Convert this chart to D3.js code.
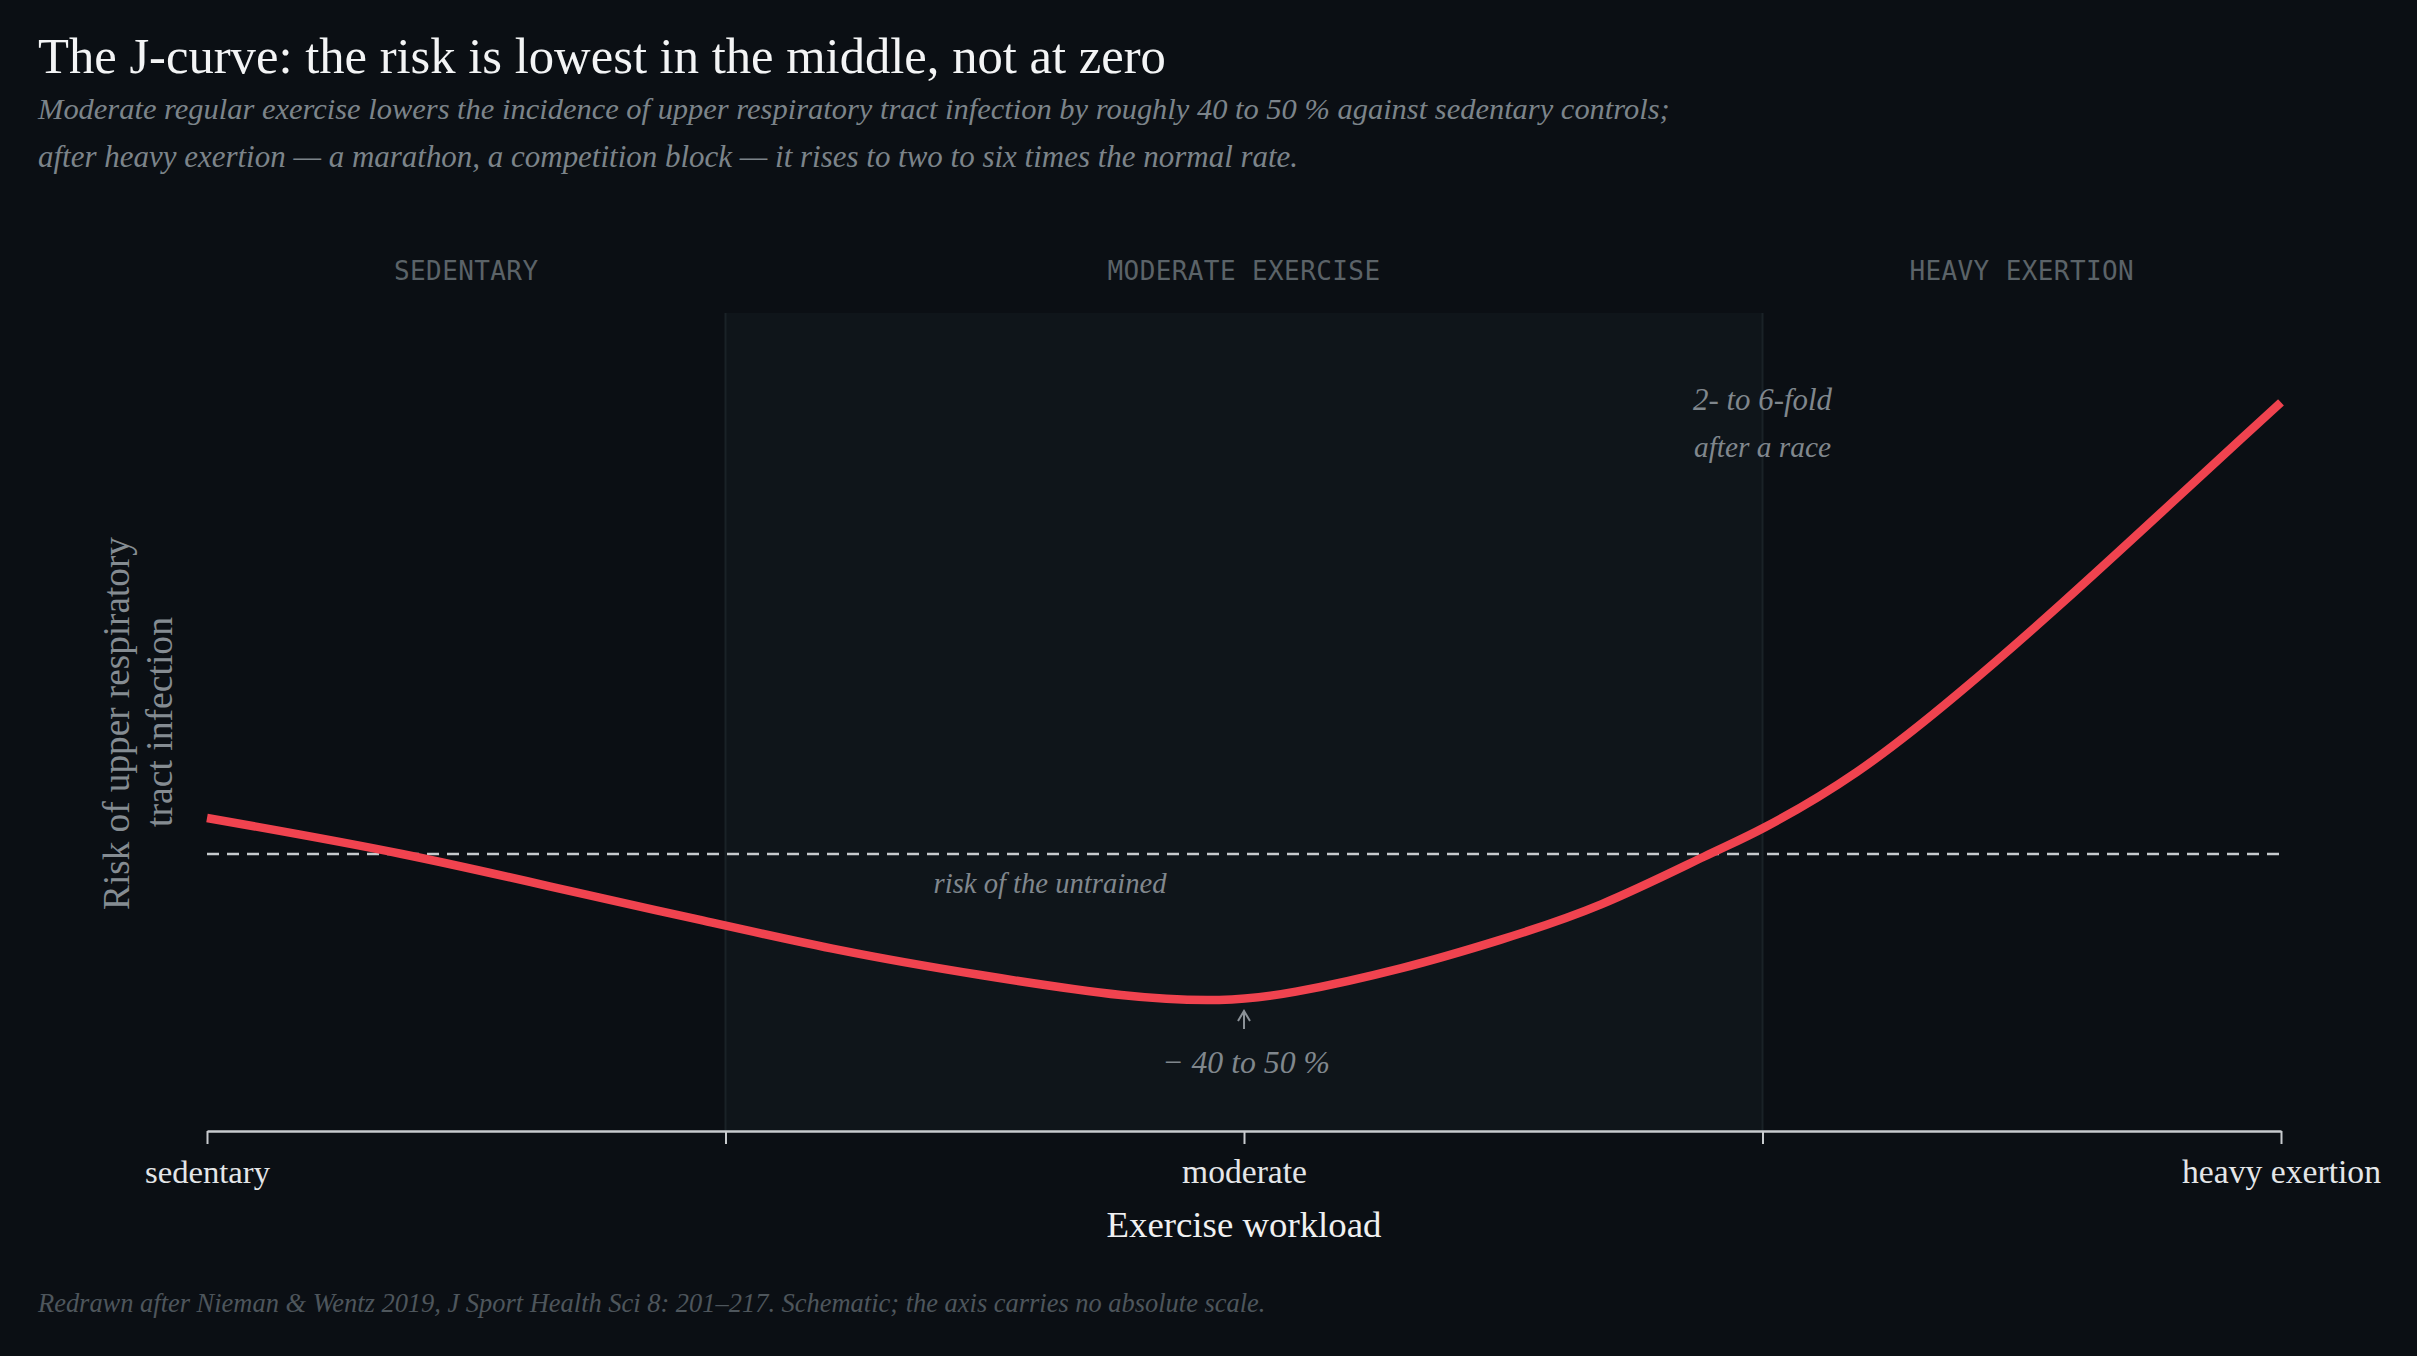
<!DOCTYPE html>
<html>
<head>
<meta charset="utf-8">
<script src="https://cdn.jsdelivr.net/npm/d3@7"></script>
<style>
  html,body{margin:0;padding:0;background:#0b0f14;}
  svg{display:block;}
</style>
</head>
<body>
<svg id="chart" width="2417" height="1356"></svg>
<script>
// ---------------- data ----------------
const workload = [0, 0.376, 0.708, 0.951, 1.221, 1.492, 1.763, 1.952, 2.10, 2.304, 2.494, 2.690, 2.887, 3.005, 3.182, 3.379, 3.576, 3.772, 3.921, 4.0];
const risk     = [1.13, 1.0, 0.863, 0.762, 0.653, 0.563, 0.491, 0.473, 0.503, 0.588, 0.690, 0.819, 0.990, 1.097, 1.296, 1.582, 1.903, 2.238, 2.495, 2.630];
const tickValues = [0, 1, 2, 3, 4];
const tickLabels = ["sedentary", "", "moderate", "", "heavy exertion"];
const zoneNames = ["SEDENTARY", "MODERATE EXERCISE", "HEAVY EXERTION"];
const zoneFrom  = [0, 1, 3];
const zoneTo    = [1, 3, 4];
const untrainedRisk = 1.0;
const minimumAt = 2;
const foldAt = 3;

const title = "The J-curve: the risk is lowest in the middle, not at zero";
const subtitle = [
  "Moderate regular exercise lowers the incidence of upper respiratory tract infection by roughly 40 to 50 % against sedentary controls;",
  "after heavy exertion \u2014 a marathon, a competition block \u2014 it rises to two to six times the normal rate."
];
const yLabel = ["Risk of upper respiratory", "tract infection"];
const xLabel = "Exercise workload";
const footer = "Redrawn after Nieman & Wentz 2019, J Sport Health Sci 8: 201\u2013217. Schematic; the axis carries no absolute scale.";

// ---------------- layout ----------------
const W = 2417, H = 1356;
const plot = {left: 207, right: 2281, top: 313, bottom: 1131};
const SERIF = "'Liberation Serif', 'DejaVu Serif', serif";
const MONO = "'DejaVu Sans Mono', 'Liberation Mono', monospace";

const svg = d3.select("#chart");
svg.append("rect").attr("width", W).attr("height", H).attr("fill", "#0b0f14");

const x = d3.scaleLinear().domain([0, 4]).range([plot.left, plot.right]);
const y = d3.scaleLinear().domain([0, 2.953]).range([plot.bottom, plot.top]);

function fit(sel, target) {
  sel.each(function () {
    const fs = parseFloat(this.getAttribute("font-size"));
    const l = this.getComputedTextLength();
    if (l > 0) this.setAttribute("font-size", (fs * target / l).toFixed(2));
  });
  return sel;
}

// moderate band
const zones = zoneNames.map((n, i) => ({name: n, from: zoneFrom[i], to: zoneTo[i]}));
const mid = zones[1];
svg.append("rect")
  .attr("x", x(mid.from)).attr("y", plot.top)
  .attr("width", x(mid.to) - x(mid.from)).attr("height", plot.bottom - plot.top)
  .attr("fill", "#0f151a");
[mid.from, mid.to].forEach(v => {
  svg.append("line")
    .attr("x1", x(v)).attr("x2", x(v)).attr("y1", plot.top).attr("y2", plot.bottom)
    .attr("stroke", "#1a2227").attr("stroke-width", 2);
});

// zone labels
svg.selectAll("text.zone").data(zones).join("text")
  .attr("class", "zone")
  .attr("x", d => x((d.from + d.to) / 2))
  .attr("y", 280)
  .attr("text-anchor", "middle")
  .attr("font-family", MONO)
  .attr("font-size", 26)
  .attr("letter-spacing", 0.4)
  .attr("fill", "#5b6368")
  .text(d => d.name);

// untrained baseline
svg.append("line")
  .attr("x1", x(0)).attr("x2", x(4))
  .attr("y1", y(untrainedRisk)).attr("y2", y(untrainedRisk))
  .attr("stroke", "#c6cacd").attr("stroke-width", 2.5)
  .attr("stroke-dasharray", "12 8");

fit(svg.append("text")
  .attr("x", x(1.626)).attr("y", y(untrainedRisk) + 39)
  .attr("text-anchor", "middle")
  .attr("font-family", SERIF).attr("font-style", "italic")
  .attr("font-size", 28).attr("fill", "#80878d")
  .text("risk of the untrained"), 233);

// axis
const axis = d3.axisBottom(x)
  .tickValues(tickValues)
  .tickFormat((d, i) => tickLabels[i])
  .tickSize(13).tickSizeOuter(0);
const ag = svg.append("g").attr("transform", `translate(0,${plot.bottom})`).call(axis);
ag.select(".domain").attr("stroke", "#c8cbce").attr("stroke-width", 2.5);
ag.selectAll(".tick line").attr("stroke", "#c8cbce").attr("stroke-width", 2);
ag.selectAll(".tick text")
  .attr("y", 52).attr("dy", 0)
  .attr("font-family", SERIF).attr("font-size", 32)
  .attr("fill", "#e4e6e8");
const tickTargets = {"sedentary": 125, "moderate": 125, "heavy exertion": 199};
ag.selectAll(".tick text").each(function () {
  const t = this.textContent;
  if (tickTargets[t]) fit(d3.select(this), tickTargets[t]);
});

fit(svg.append("text")
  .attr("x", x(2)).attr("y", 1237)
  .attr("text-anchor", "middle")
  .attr("font-family", SERIF).attr("font-size", 36)
  .attr("fill", "#f0f1f2")
  .text(xLabel), 275);

// y label
const yl = svg.append("text")
  .attr("transform", `translate(129,723.5) rotate(-90)`)
  .attr("text-anchor", "middle")
  .attr("font-family", SERIF).attr("font-size", 36)
  .attr("fill", "#858c92")
  .text(yLabel[0]);
fit(yl, 373);
const yl2 = svg.append("text")
  .attr("transform", `translate(172,722) rotate(-90)`)
  .attr("text-anchor", "middle")
  .attr("font-family", SERIF).attr("font-size", 36)
  .attr("fill", "#858c92")
  .text(yLabel[1]);
fit(yl2, 210);

// curve
const pts = workload.map((w, i) => [w, risk[i]]);
const line = d3.line().x(d => x(d[0])).y(d => y(d[1])).curve(d3.curveNatural);
svg.append("path")
  .attr("d", line(pts))
  .attr("fill", "none")
  .attr("stroke", "#f0434f")
  .attr("stroke-width", 8.5)
  .attr("stroke-linecap", "butt");

// minimum annotation
const ax = x(minimumAt);
svg.append("path")
  .attr("d", `M${ax},1029 L${ax},1011 M${ax - 6},1021 L${ax},1011 L${ax + 6},1021`)
  .attr("fill", "none").attr("stroke", "#8a9197").attr("stroke-width", 2);
fit(svg.append("text")
  .attr("x", ax + 2).attr("y", 1073)
  .attr("text-anchor", "middle")
  .attr("font-family", SERIF).attr("font-style", "italic")
  .attr("font-size", 30).attr("fill", "#80878d")
  .text("\u2212 40 to 50 %"), 168);

// fold annotation
const fx = x(foldAt);
fit(svg.append("text")
  .attr("x", fx).attr("y", 410)
  .attr("text-anchor", "middle")
  .attr("font-family", SERIF).attr("font-style", "italic")
  .attr("font-size", 30).attr("fill", "#80878d")
  .text("2- to 6-fold"), 139);
fit(svg.append("text")
  .attr("x", fx).attr("y", 457)
  .attr("text-anchor", "middle")
  .attr("font-family", SERIF).attr("font-style", "italic")
  .attr("font-size", 30).attr("fill", "#80878d")
  .text("after a race"), 137);

// title & subtitle
fit(svg.append("text")
  .attr("x", 38).attr("y", 73)
  .attr("font-family", SERIF).attr("font-size", 48)
  .attr("fill", "#f3f4f5")
  .text(title), 1128);
const subTargets = [1632, 1260];
const subY = [119, 167];
subtitle.forEach((s, i) => {
  fit(svg.append("text")
    .attr("x", 38).attr("y", subY[i])
    .attr("font-family", SERIF).attr("font-style", "italic")
    .attr("font-size", 30).attr("fill", "#7c848a")
    .text(s), subTargets[i]);
});

// footer
fit(svg.append("text")
  .attr("x", 38).attr("y", 1312)
  .attr("font-family", SERIF).attr("font-style", "italic")
  .attr("font-size", 26).attr("fill", "#4e565c")
  .text(footer), 1228);
</script>
</body>
</html>
